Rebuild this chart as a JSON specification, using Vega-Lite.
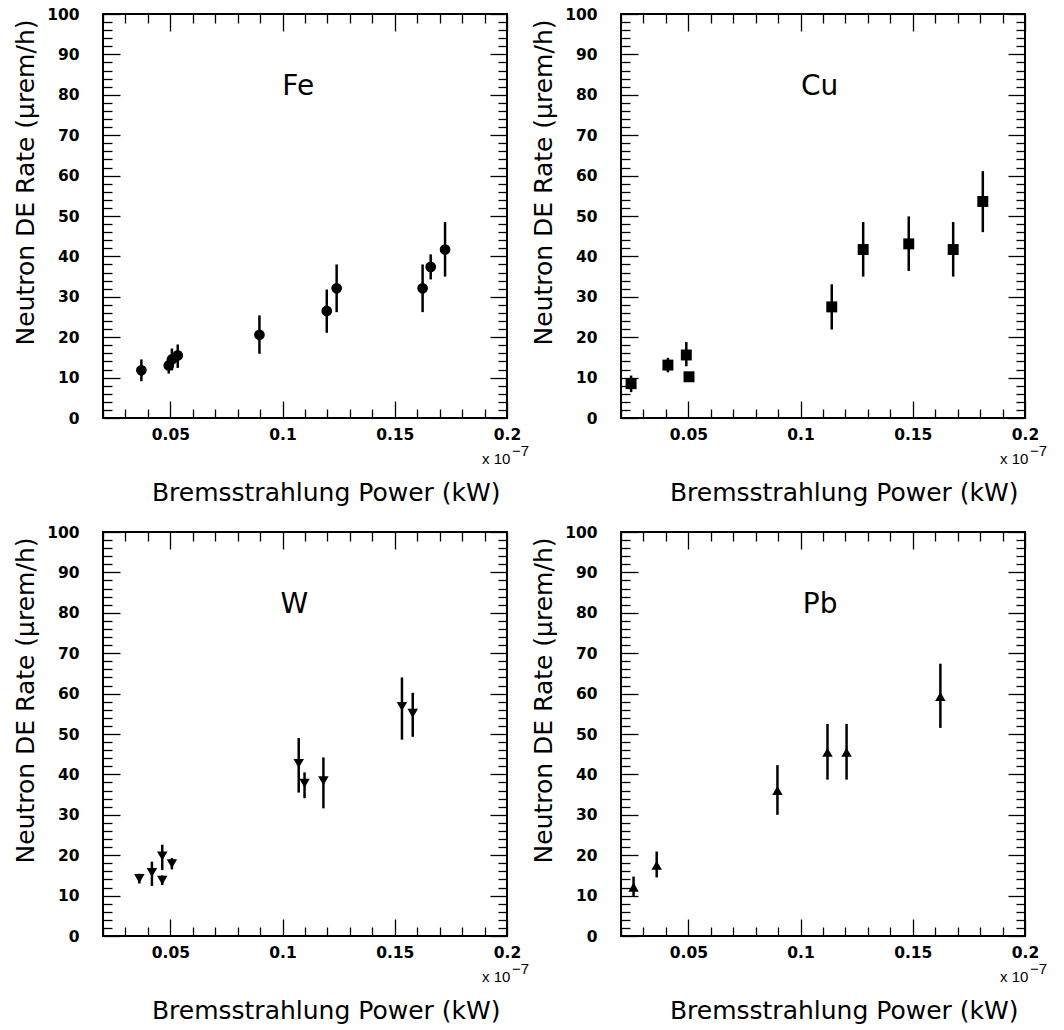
{
  "$schema": "https://vega.github.io/schema/vega-lite/v6.json",
  "autosize": {"type": "pad"},
  "padding": {"left": 12, "top": 6, "right": 0, "bottom": 0},
  "background": "white",
  "columns": 2,
  "bounds": "flush",
  "spacing": 114,
  "config": {
    "font": "DejaVu Sans",
    "view": {"stroke": "black", "strokeWidth": 2},
    "axis": {"tickColor": "black", "tickWidth": 1.3, "labelFont": "DejaVu Sans", "labelFontSize": 15.5, "labelFontWeight": "bold", "labelColor": "black", "titleFont": "DejaVu Sans", "titleFontSize": 25, "titleFontWeight": "normal", "titleColor": "black", "grid": false, "domain": false, "labelFlush": false, "labelOverlap": false, "labelBound": false}
  },
  "data": {"values": [
    {"m": "Fe", "x": 0.0371, "y": 11.8, "lo": 9.1, "hi": 14.5},
    {"m": "Fe", "x": 0.0493, "y": 13.0, "lo": 11.0, "hi": 15.0},
    {"m": "Fe", "x": 0.0507, "y": 14.5, "lo": 11.8, "hi": 17.2},
    {"m": "Fe", "x": 0.0533, "y": 15.5, "lo": 12.4, "hi": 18.2},
    {"m": "Fe", "x": 0.0897, "y": 20.6, "lo": 15.9, "hi": 25.4},
    {"m": "Fe", "x": 0.1197, "y": 26.5, "lo": 21.1, "hi": 31.8},
    {"m": "Fe", "x": 0.1241, "y": 32.1, "lo": 26.2, "hi": 38.0},
    {"m": "Fe", "x": 0.1624, "y": 32.1, "lo": 26.2, "hi": 38.0},
    {"m": "Fe", "x": 0.1660, "y": 37.4, "lo": 34.3, "hi": 40.5},
    {"m": "Fe", "x": 0.1724, "y": 41.7, "lo": 35.0, "hi": 48.5},
    {"m": "Cu", "x": 0.0245, "y": 8.5, "lo": 6.4, "hi": 10.5},
    {"m": "Cu", "x": 0.0409, "y": 13.1, "lo": 11.3, "hi": 14.9},
    {"m": "Cu", "x": 0.0491, "y": 15.6, "lo": 12.8, "hi": 18.8},
    {"m": "Cu", "x": 0.0503, "y": 10.2, "lo": 9.5, "hi": 10.9},
    {"m": "Cu", "x": 0.1139, "y": 27.5, "lo": 21.9, "hi": 33.1},
    {"m": "Cu", "x": 0.1279, "y": 41.7, "lo": 35.0, "hi": 48.5},
    {"m": "Cu", "x": 0.1482, "y": 43.1, "lo": 36.4, "hi": 49.9},
    {"m": "Cu", "x": 0.1680, "y": 41.7, "lo": 35.0, "hi": 48.5},
    {"m": "Cu", "x": 0.1812, "y": 53.6, "lo": 46.0, "hi": 61.1},
    {"m": "W", "x": 0.0362, "y": 14.2, "lo": 13.0, "hi": 15.4},
    {"m": "W", "x": 0.0418, "y": 15.7, "lo": 12.4, "hi": 18.4},
    {"m": "W", "x": 0.0464, "y": 19.8, "lo": 16.3, "hi": 22.6},
    {"m": "W", "x": 0.0464, "y": 13.8, "lo": 12.6, "hi": 15.0},
    {"m": "W", "x": 0.0507, "y": 17.9, "lo": 16.5, "hi": 19.3},
    {"m": "W", "x": 0.1072, "y": 42.7, "lo": 35.5, "hi": 49.0},
    {"m": "W", "x": 0.1098, "y": 37.8, "lo": 34.1, "hi": 40.5},
    {"m": "W", "x": 0.1182, "y": 38.4, "lo": 31.6, "hi": 44.2},
    {"m": "W", "x": 0.1532, "y": 56.8, "lo": 48.6, "hi": 64.0},
    {"m": "W", "x": 0.1580, "y": 55.1, "lo": 49.3, "hi": 60.2},
    {"m": "Pb", "x": 0.0256, "y": 12.1, "lo": 9.9, "hi": 14.7},
    {"m": "Pb", "x": 0.0359, "y": 17.5, "lo": 14.5, "hi": 20.9},
    {"m": "Pb", "x": 0.0897, "y": 36.0, "lo": 30.0, "hi": 42.3},
    {"m": "Pb", "x": 0.1120, "y": 45.5, "lo": 38.7, "hi": 52.5},
    {"m": "Pb", "x": 0.1205, "y": 45.5, "lo": 38.7, "hi": 52.5},
    {"m": "Pb", "x": 0.1623, "y": 59.3, "lo": 51.5, "hi": 67.4}
  ]},
  "concat": [
      {"width": 404, "height": 404, "resolve": {"axis": {"x": "independent", "y": "independent"}}, "layer": [
        {"transform": [{"filter": "datum.m === 'Fe'"}], "mark": {"type": "rule", "strokeWidth": 2.5, "color": "black"},
         "encoding": {
           "x": {"field": "x", "type": "quantitative", "scale": {"domain": [0.02, 0.2], "nice": false, "zero": false}, "axis": {"orient": "bottom", "values": [0.05, 0.1, 0.15, 0.2], "format": "~g", "tickSize": -17, "labelPadding": 26, "labelFontSize": 15.5, "labelFontWeight": "bold", "title": "Bremsstrahlung Power (kW)", "titleFontSize": 25, "titleX": 397, "titleY": 82, "titleAlign": "right", "titleAnchor": null, "titleBaseline": "alphabetic", "titleAngle": 0}},
           "y": {"field": "lo", "type": "quantitative", "scale": {"domain": [0, 100], "nice": false, "zero": false}, "axis": {"orient": "left", "values": [0, 10, 20, 30, 40, 50, 60, 70, 80, 90, 100], "tickSize": -17, "labelPadding": 41, "labelFontSize": 15.5, "labelFontWeight": "bold", "title": "Neutron DE Rate (μrem/h)", "titleFontSize": 25, "titleX": -70, "titleY": 5, "titleAngle": 270, "titleAlign": "right", "titleAnchor": null, "titleBaseline": "alphabetic"}},
           "y2": {"field": "hi"}}},
        {"transform": [{"filter": "datum.m === 'Fe'"}], "mark": {"type": "point", "shape": "circle", "filled": true, "size": 115, "color": "black", "opacity": 1},
         "encoding": {
           "x": {"field": "x", "type": "quantitative", "axis": {"orient": "bottom", "values": [0.02, 0.03, 0.04, 0.06, 0.07, 0.08, 0.09, 0.11, 0.12, 0.13, 0.14, 0.16, 0.17, 0.18, 0.19], "tickSize": -9, "labels": false, "title": null}},
           "y": {"field": "y", "type": "quantitative", "axis": {"orient": "left", "values": [2, 4, 6, 8, 12, 14, 16, 18, 22, 24, 26, 28, 32, 34, 36, 38, 42, 44, 46, 48, 52, 54, 56, 58, 62, 64, 66, 68, 72, 74, 76, 78, 82, 84, 86, 88, 92, 94, 96, 98], "tickSize": -9, "labels": false, "title": null}}}},
        {"data": {"values": [{"label": "Fe"}]}, "mark": {"type": "text", "font": "DejaVu Sans", "fontSize": 28, "align": "center", "baseline": "middle", "color": "black"},
         "encoding": {
           "text": {"field": "label"},
           "x": {"datum": 0.107, "type": "quantitative", "axis": {"orient": "top", "values": [0.05, 0.1, 0.15, 0.2], "tickSize": -17, "labels": false, "title": null}},
           "y": {"datum": 82, "type": "quantitative", "axis": {"orient": "right", "values": [0, 10, 20, 30, 40, 50, 60, 70, 80, 90, 100], "tickSize": -17, "labels": false, "title": null}}}},
        {"data": {"values": [{"t": "x 10"}]}, "mark": {"type": "text", "font": "Liberation Sans", "fontSize": 15, "align": "left", "baseline": "alphabetic", "color": "black"},
         "encoding": {
           "text": {"field": "t"},
           "x": {"datum": 0.1889, "type": "quantitative", "axis": {"orient": "top", "values": [0.02, 0.03, 0.04, 0.06, 0.07, 0.08, 0.09, 0.11, 0.12, 0.13, 0.14, 0.16, 0.17, 0.18, 0.19], "tickSize": -9, "labels": false, "title": null}},
           "y": {"datum": -11.4, "type": "quantitative", "axis": {"orient": "right", "values": [2, 4, 6, 8, 12, 14, 16, 18, 22, 24, 26, 28, 32, 34, 36, 38, 42, 44, 46, 48, 52, 54, 56, 58, 62, 64, 66, 68, 72, 74, 76, 78, 82, 84, 86, 88, 92, 94, 96, 98], "tickSize": -9, "labels": false, "title": null}}}},
        {"data": {"values": [{"t": "−7"}]}, "mark": {"type": "text", "font": "Liberation Sans", "fontSize": 15, "align": "left", "baseline": "alphabetic", "dx": 5, "dy": -8, "color": "black"},
         "encoding": {
           "text": {"field": "t"},
           "x": {"datum": 0.2, "type": "quantitative", "axis": null},
           "y": {"datum": -11.4, "type": "quantitative", "axis": null}}}
      ]},
      {"width": 404, "height": 404, "resolve": {"axis": {"x": "independent", "y": "independent"}}, "layer": [
        {"transform": [{"filter": "datum.m === 'Cu'"}], "mark": {"type": "rule", "strokeWidth": 2.5, "color": "black"},
         "encoding": {
           "x": {"field": "x", "type": "quantitative", "scale": {"domain": [0.02, 0.2], "nice": false, "zero": false}, "axis": {"orient": "bottom", "values": [0.05, 0.1, 0.15, 0.2], "format": "~g", "tickSize": -17, "labelPadding": 26, "labelFontSize": 15.5, "labelFontWeight": "bold", "title": "Bremsstrahlung Power (kW)", "titleFontSize": 25, "titleX": 397, "titleY": 82, "titleAlign": "right", "titleAnchor": null, "titleBaseline": "alphabetic", "titleAngle": 0}},
           "y": {"field": "lo", "type": "quantitative", "scale": {"domain": [0, 100], "nice": false, "zero": false}, "axis": {"orient": "left", "values": [0, 10, 20, 30, 40, 50, 60, 70, 80, 90, 100], "tickSize": -17, "labelPadding": 41, "labelFontSize": 15.5, "labelFontWeight": "bold", "title": "Neutron DE Rate (μrem/h)", "titleFontSize": 25, "titleX": -70, "titleY": 5, "titleAngle": 270, "titleAlign": "right", "titleAnchor": null, "titleBaseline": "alphabetic"}},
           "y2": {"field": "hi"}}},
        {"transform": [{"filter": "datum.m === 'Cu'"}], "mark": {"type": "point", "shape": "square", "filled": true, "size": 120, "color": "black", "opacity": 1},
         "encoding": {
           "x": {"field": "x", "type": "quantitative", "axis": {"orient": "bottom", "values": [0.02, 0.03, 0.04, 0.06, 0.07, 0.08, 0.09, 0.11, 0.12, 0.13, 0.14, 0.16, 0.17, 0.18, 0.19], "tickSize": -9, "labels": false, "title": null}},
           "y": {"field": "y", "type": "quantitative", "axis": {"orient": "left", "values": [2, 4, 6, 8, 12, 14, 16, 18, 22, 24, 26, 28, 32, 34, 36, 38, 42, 44, 46, 48, 52, 54, 56, 58, 62, 64, 66, 68, 72, 74, 76, 78, 82, 84, 86, 88, 92, 94, 96, 98], "tickSize": -9, "labels": false, "title": null}}}},
        {"data": {"values": [{"label": "Cu"}]}, "mark": {"type": "text", "font": "DejaVu Sans", "fontSize": 28, "align": "center", "baseline": "middle", "color": "black"},
         "encoding": {
           "text": {"field": "label"},
           "x": {"datum": 0.1085, "type": "quantitative", "axis": {"orient": "top", "values": [0.05, 0.1, 0.15, 0.2], "tickSize": -17, "labels": false, "title": null}},
           "y": {"datum": 82, "type": "quantitative", "axis": {"orient": "right", "values": [0, 10, 20, 30, 40, 50, 60, 70, 80, 90, 100], "tickSize": -17, "labels": false, "title": null}}}},
        {"data": {"values": [{"t": "x 10"}]}, "mark": {"type": "text", "font": "Liberation Sans", "fontSize": 15, "align": "left", "baseline": "alphabetic", "color": "black"},
         "encoding": {
           "text": {"field": "t"},
           "x": {"datum": 0.1889, "type": "quantitative", "axis": {"orient": "top", "values": [0.02, 0.03, 0.04, 0.06, 0.07, 0.08, 0.09, 0.11, 0.12, 0.13, 0.14, 0.16, 0.17, 0.18, 0.19], "tickSize": -9, "labels": false, "title": null}},
           "y": {"datum": -11.4, "type": "quantitative", "axis": {"orient": "right", "values": [2, 4, 6, 8, 12, 14, 16, 18, 22, 24, 26, 28, 32, 34, 36, 38, 42, 44, 46, 48, 52, 54, 56, 58, 62, 64, 66, 68, 72, 74, 76, 78, 82, 84, 86, 88, 92, 94, 96, 98], "tickSize": -9, "labels": false, "title": null}}}},
        {"data": {"values": [{"t": "−7"}]}, "mark": {"type": "text", "font": "Liberation Sans", "fontSize": 15, "align": "left", "baseline": "alphabetic", "dx": 5, "dy": -8, "color": "black"},
         "encoding": {
           "text": {"field": "t"},
           "x": {"datum": 0.2, "type": "quantitative", "axis": null},
           "y": {"datum": -11.4, "type": "quantitative", "axis": null}}}
      ]},
      {"width": 404, "height": 404, "resolve": {"axis": {"x": "independent", "y": "independent"}}, "layer": [
        {"transform": [{"filter": "datum.m === 'W'"}], "mark": {"type": "rule", "strokeWidth": 2.5, "color": "black"},
         "encoding": {
           "x": {"field": "x", "type": "quantitative", "scale": {"domain": [0.02, 0.2], "nice": false, "zero": false}, "axis": {"orient": "bottom", "values": [0.05, 0.1, 0.15, 0.2], "format": "~g", "tickSize": -17, "labelPadding": 26, "labelFontSize": 15.5, "labelFontWeight": "bold", "title": "Bremsstrahlung Power (kW)", "titleFontSize": 25, "titleX": 397, "titleY": 82, "titleAlign": "right", "titleAnchor": null, "titleBaseline": "alphabetic", "titleAngle": 0}},
           "y": {"field": "lo", "type": "quantitative", "scale": {"domain": [0, 100], "nice": false, "zero": false}, "axis": {"orient": "left", "values": [0, 10, 20, 30, 40, 50, 60, 70, 80, 90, 100], "tickSize": -17, "labelPadding": 41, "labelFontSize": 15.5, "labelFontWeight": "bold", "title": "Neutron DE Rate (μrem/h)", "titleFontSize": 25, "titleX": -70, "titleY": 5, "titleAngle": 270, "titleAlign": "right", "titleAnchor": null, "titleBaseline": "alphabetic"}},
           "y2": {"field": "hi"}}},
        {"transform": [{"filter": "datum.m === 'W'"}], "mark": {"type": "point", "shape": "triangle-down", "filled": true, "size": 110, "color": "black", "opacity": 1},
         "encoding": {
           "x": {"field": "x", "type": "quantitative", "axis": {"orient": "bottom", "values": [0.02, 0.03, 0.04, 0.06, 0.07, 0.08, 0.09, 0.11, 0.12, 0.13, 0.14, 0.16, 0.17, 0.18, 0.19], "tickSize": -9, "labels": false, "title": null}},
           "y": {"field": "y", "type": "quantitative", "axis": {"orient": "left", "values": [2, 4, 6, 8, 12, 14, 16, 18, 22, 24, 26, 28, 32, 34, 36, 38, 42, 44, 46, 48, 52, 54, 56, 58, 62, 64, 66, 68, 72, 74, 76, 78, 82, 84, 86, 88, 92, 94, 96, 98], "tickSize": -9, "labels": false, "title": null}}}},
        {"data": {"values": [{"label": "W"}]}, "mark": {"type": "text", "font": "DejaVu Sans", "fontSize": 28, "align": "center", "baseline": "middle", "color": "black"},
         "encoding": {
           "text": {"field": "label"},
           "x": {"datum": 0.1052, "type": "quantitative", "axis": {"orient": "top", "values": [0.05, 0.1, 0.15, 0.2], "tickSize": -17, "labels": false, "title": null}},
           "y": {"datum": 82, "type": "quantitative", "axis": {"orient": "right", "values": [0, 10, 20, 30, 40, 50, 60, 70, 80, 90, 100], "tickSize": -17, "labels": false, "title": null}}}},
        {"data": {"values": [{"t": "x 10"}]}, "mark": {"type": "text", "font": "Liberation Sans", "fontSize": 15, "align": "left", "baseline": "alphabetic", "color": "black"},
         "encoding": {
           "text": {"field": "t"},
           "x": {"datum": 0.1889, "type": "quantitative", "axis": {"orient": "top", "values": [0.02, 0.03, 0.04, 0.06, 0.07, 0.08, 0.09, 0.11, 0.12, 0.13, 0.14, 0.16, 0.17, 0.18, 0.19], "tickSize": -9, "labels": false, "title": null}},
           "y": {"datum": -11.4, "type": "quantitative", "axis": {"orient": "right", "values": [2, 4, 6, 8, 12, 14, 16, 18, 22, 24, 26, 28, 32, 34, 36, 38, 42, 44, 46, 48, 52, 54, 56, 58, 62, 64, 66, 68, 72, 74, 76, 78, 82, 84, 86, 88, 92, 94, 96, 98], "tickSize": -9, "labels": false, "title": null}}}},
        {"data": {"values": [{"t": "−7"}]}, "mark": {"type": "text", "font": "Liberation Sans", "fontSize": 15, "align": "left", "baseline": "alphabetic", "dx": 5, "dy": -8, "color": "black"},
         "encoding": {
           "text": {"field": "t"},
           "x": {"datum": 0.2, "type": "quantitative", "axis": null},
           "y": {"datum": -11.4, "type": "quantitative", "axis": null}}}
      ]},
      {"width": 404, "height": 404, "resolve": {"axis": {"x": "independent", "y": "independent"}}, "layer": [
        {"transform": [{"filter": "datum.m === 'Pb'"}], "mark": {"type": "rule", "strokeWidth": 2.5, "color": "black"},
         "encoding": {
           "x": {"field": "x", "type": "quantitative", "scale": {"domain": [0.02, 0.2], "nice": false, "zero": false}, "axis": {"orient": "bottom", "values": [0.05, 0.1, 0.15, 0.2], "format": "~g", "tickSize": -17, "labelPadding": 26, "labelFontSize": 15.5, "labelFontWeight": "bold", "title": "Bremsstrahlung Power (kW)", "titleFontSize": 25, "titleX": 397, "titleY": 82, "titleAlign": "right", "titleAnchor": null, "titleBaseline": "alphabetic", "titleAngle": 0}},
           "y": {"field": "lo", "type": "quantitative", "scale": {"domain": [0, 100], "nice": false, "zero": false}, "axis": {"orient": "left", "values": [0, 10, 20, 30, 40, 50, 60, 70, 80, 90, 100], "tickSize": -17, "labelPadding": 41, "labelFontSize": 15.5, "labelFontWeight": "bold", "title": "Neutron DE Rate (μrem/h)", "titleFontSize": 25, "titleX": -70, "titleY": 5, "titleAngle": 270, "titleAlign": "right", "titleAnchor": null, "titleBaseline": "alphabetic"}},
           "y2": {"field": "hi"}}},
        {"transform": [{"filter": "datum.m === 'Pb'"}], "mark": {"type": "point", "shape": "triangle-up", "filled": true, "size": 110, "color": "black", "opacity": 1},
         "encoding": {
           "x": {"field": "x", "type": "quantitative", "axis": {"orient": "bottom", "values": [0.02, 0.03, 0.04, 0.06, 0.07, 0.08, 0.09, 0.11, 0.12, 0.13, 0.14, 0.16, 0.17, 0.18, 0.19], "tickSize": -9, "labels": false, "title": null}},
           "y": {"field": "y", "type": "quantitative", "axis": {"orient": "left", "values": [2, 4, 6, 8, 12, 14, 16, 18, 22, 24, 26, 28, 32, 34, 36, 38, 42, 44, 46, 48, 52, 54, 56, 58, 62, 64, 66, 68, 72, 74, 76, 78, 82, 84, 86, 88, 92, 94, 96, 98], "tickSize": -9, "labels": false, "title": null}}}},
        {"data": {"values": [{"label": "Pb"}]}, "mark": {"type": "text", "font": "DejaVu Sans", "fontSize": 28, "align": "center", "baseline": "middle", "color": "black"},
         "encoding": {
           "text": {"field": "label"},
           "x": {"datum": 0.1087, "type": "quantitative", "axis": {"orient": "top", "values": [0.05, 0.1, 0.15, 0.2], "tickSize": -17, "labels": false, "title": null}},
           "y": {"datum": 82, "type": "quantitative", "axis": {"orient": "right", "values": [0, 10, 20, 30, 40, 50, 60, 70, 80, 90, 100], "tickSize": -17, "labels": false, "title": null}}}},
        {"data": {"values": [{"t": "x 10"}]}, "mark": {"type": "text", "font": "Liberation Sans", "fontSize": 15, "align": "left", "baseline": "alphabetic", "color": "black"},
         "encoding": {
           "text": {"field": "t"},
           "x": {"datum": 0.1889, "type": "quantitative", "axis": {"orient": "top", "values": [0.02, 0.03, 0.04, 0.06, 0.07, 0.08, 0.09, 0.11, 0.12, 0.13, 0.14, 0.16, 0.17, 0.18, 0.19], "tickSize": -9, "labels": false, "title": null}},
           "y": {"datum": -11.4, "type": "quantitative", "axis": {"orient": "right", "values": [2, 4, 6, 8, 12, 14, 16, 18, 22, 24, 26, 28, 32, 34, 36, 38, 42, 44, 46, 48, 52, 54, 56, 58, 62, 64, 66, 68, 72, 74, 76, 78, 82, 84, 86, 88, 92, 94, 96, 98], "tickSize": -9, "labels": false, "title": null}}}},
        {"data": {"values": [{"t": "−7"}]}, "mark": {"type": "text", "font": "Liberation Sans", "fontSize": 15, "align": "left", "baseline": "alphabetic", "dx": 5, "dy": -8, "color": "black"},
         "encoding": {
           "text": {"field": "t"},
           "x": {"datum": 0.2, "type": "quantitative", "axis": null},
           "y": {"datum": -11.4, "type": "quantitative", "axis": null}}}
      ]}
  ]
}
